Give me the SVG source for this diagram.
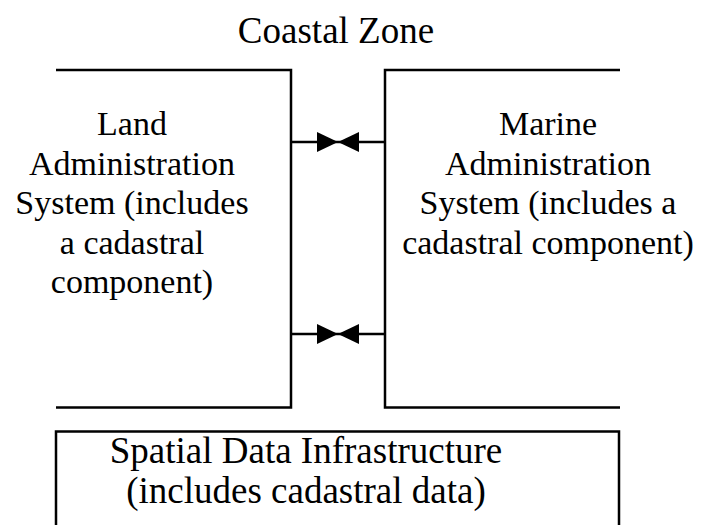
<svg xmlns="http://www.w3.org/2000/svg" width="706" height="525" viewBox="0 0 706 525">
<style>
.ln{fill:none;stroke:#000;stroke-width:2.5;stroke-linecap:butt;stroke-linejoin:miter}
.t{font-family:"Liberation Serif","Times New Roman",serif;font-size:34px;fill:#000;text-anchor:middle}
.big{font-size:37px}
</style>
<defs>
<marker id="ah" viewBox="0 0 21 20" refX="21" refY="10" markerWidth="21" markerHeight="20" markerUnits="userSpaceOnUse" orient="auto">
<path d="M0,0 L21,10 L0,20 Z" fill="#000"/>
</marker>
</defs>
<rect width="706" height="525" fill="#fff"/>
<g id="title"><text class="t big" x="336" y="43">Coastal Zone</text></g>
<g id="land">
<path class="ln" d="M56,70 H291 V407.5 H56"/>
<text class="t" x="132" y="135">Land</text>
<text class="t" x="132" y="174.5">Administration</text>
<text class="t" x="132" y="214">System (includes</text>
<text class="t" x="132" y="253.5">a cadastral</text>
<text class="t" x="132" y="293">component)</text>
</g>
<g id="marine">
<path class="ln" d="M620,70 H385 V407.5 H620"/>
<text class="t" x="548" y="135">Marine</text>
<text class="t" x="548" y="174.5">Administration</text>
<text class="t" x="548" y="214">System (includes a</text>
<text class="t" x="548" y="253.5">cadastral component)</text>
</g>
<g id="sdi">
<path class="ln" d="M56,526 V431.5 H619 V526"/>
<text class="t big" x="306" y="463">Spatial Data Infrastructure</text>
<text class="t big" x="306" y="503">(includes cadastral data)</text>
</g>
<g id="connectors">
<line class="ln" x1="291" y1="142" x2="338" y2="142" marker-end="url(#ah)"/>
<line class="ln" x1="385" y1="142" x2="338" y2="142" marker-end="url(#ah)"/>
<line class="ln" x1="291" y1="334" x2="338" y2="334" marker-end="url(#ah)"/>
<line class="ln" x1="385" y1="334" x2="338" y2="334" marker-end="url(#ah)"/>
</g>
</svg>
